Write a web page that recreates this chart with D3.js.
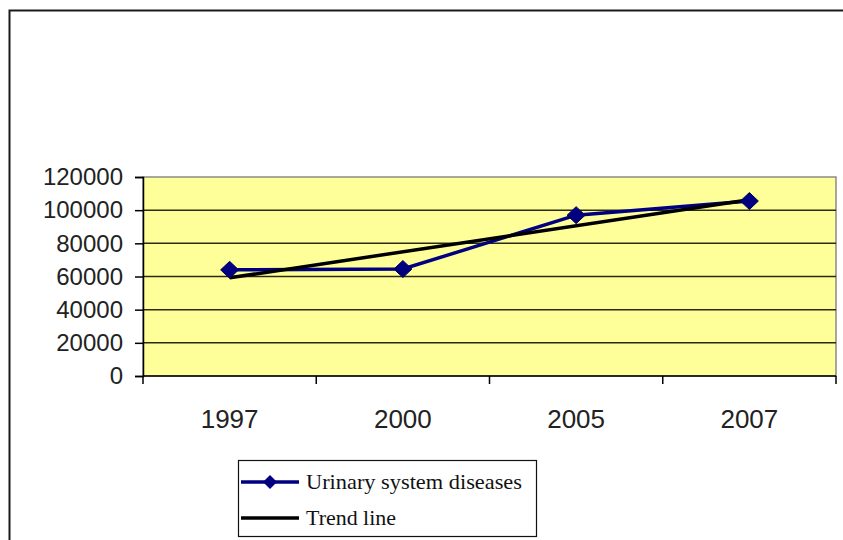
<!DOCTYPE html>
<html>
<head>
<meta charset="utf-8">
<script src="https://cdn.jsdelivr.net/npm/d3@7"></script>
<style>
  html, body { margin: 0; padding: 0; background: #fff; }
  svg { display: block; }
</style>
</head>
<body>
<svg id="chart" width="843" height="540"></svg>
<script>
// Categories and observed values
const years = ["1997", "2000", "2005", "2007"];
const urinary = [64000, 64500, 97000, 105500];
const yTicks = [0, 20000, 40000, 60000, 80000, 100000, 120000];
const legendLabels = ["Urinary system diseases", "Trend line"];

const svg = d3.select("#chart");
const W = 843, H = 540;
const plot = { left: 143, right: 836, top: 177, bottom: 376 };

// Outer chart frame (runs off the right and bottom edges)
svg.append("rect")
  .attr("x", 9.5).attr("y", 10.5)
  .attr("width", W + 20).attr("height", H + 20)
  .attr("fill", "#fff").attr("stroke", "#1a1a1a").attr("stroke-width", 2);

const x = d3.scaleBand().domain(years).range([plot.left, plot.right]).paddingInner(0).paddingOuter(0);
const y = d3.scaleLinear().domain([0, 120000]).range([plot.bottom, plot.top]);
const cx = d => x(d) + x.bandwidth() / 2;

// Plot area background
svg.append("rect")
  .attr("x", plot.left).attr("y", plot.top)
  .attr("width", plot.right - plot.left).attr("height", plot.bottom - plot.top)
  .attr("fill", "#FFFF99").attr("stroke", "#8a8a8a").attr("stroke-width", 1.5);

// Horizontal gridlines
svg.append("g").selectAll("line")
  .data(yTicks.filter(t => t > 0 && t < 120000))
  .join("line")
  .attr("x1", plot.left).attr("x2", plot.right)
  .attr("y1", d => y(d)).attr("y2", d => y(d))
  .attr("stroke", "#2a2a10").attr("stroke-width", 1.5);

// Y axis
const yAxis = svg.append("g")
  .attr("transform", `translate(${plot.left},0)`)
  .call(d3.axisLeft(y).tickValues(yTicks).tickSize(8).tickPadding(12).tickFormat(d3.format("d")));
yAxis.select(".domain").attr("stroke", "#000").attr("stroke-width", 1.5);
yAxis.selectAll(".tick line").attr("stroke", "#000").attr("stroke-width", 1.5);
yAxis.selectAll(".tick text")
  .attr("font-family", "Liberation Sans, Arial, sans-serif")
  .attr("font-size", 24).attr("fill", "#222");

// X axis: ticks at category boundaries, labels centred in each band
const xAxisG = svg.append("g").attr("transform", `translate(0,${plot.bottom})`);
xAxisG.append("line")
  .attr("x1", plot.left).attr("x2", plot.right)
  .attr("y1", 0).attr("y2", 0)
  .attr("stroke", "#000").attr("stroke-width", 1.5);
const bounds = years.map(d => x(d)).concat([x(years[years.length - 1]) + x.bandwidth()]);
xAxisG.selectAll("line.tk").data(bounds).join("line")
  .attr("class", "tk")
  .attr("x1", d => d).attr("x2", d => d)
  .attr("y1", 0).attr("y2", 8)
  .attr("stroke", "#000").attr("stroke-width", 1.5);
xAxisG.selectAll("text").data(years).join("text")
  .attr("x", d => cx(d)).attr("y", 52)
  .attr("text-anchor", "middle")
  .attr("font-family", "Liberation Sans, Arial, sans-serif")
  .attr("font-size", 26).attr("fill", "#222")
  .text(d => d);

// Linear trend (least squares over category index)
const n = urinary.length;
const xs = d3.range(1, n + 1);
const mx = d3.mean(xs), my = d3.mean(urinary);
const slope = d3.sum(xs, (v, i) => (v - mx) * (urinary[i] - my)) / d3.sum(xs, v => (v - mx) ** 2);
const intercept = my - slope * mx;
const trend = xs.map(v => intercept + slope * v);

const line = d3.line().x((d, i) => cx(years[i])).y(d => y(d));

svg.append("path").datum(urinary)
  .attr("d", line).attr("fill", "none")
  .attr("stroke", "#000080").attr("stroke-width", 3.5);

svg.append("path").datum([trend[0], trend[n - 1]])
  .attr("d", d3.line().x((d, i) => cx(years[i === 0 ? 0 : n - 1])).y(d => y(d)))
  .attr("fill", "none").attr("stroke", "#000").attr("stroke-width", 3.5);

// Diamond markers
const diamond = (px, py, hw, hh) => `M${px},${py - hh}L${px + hw},${py}L${px},${py + hh}L${px - hw},${py}Z`;
svg.append("g").selectAll("path").data(urinary).join("path")
  .attr("d", (d, i) => diamond(cx(years[i]), y(d), 9, 8.5))
  .attr("fill", "#000080").attr("stroke", "#000060").attr("stroke-width", 1);

// Legend
const lg = svg.append("g");
lg.append("rect")
  .attr("x", 238.5).attr("y", 460.5).attr("width", 298).attr("height", 76)
  .attr("fill", "#fff").attr("stroke", "#111").attr("stroke-width", 1.2);
const rows = [482, 518];
lg.append("line").attr("x1", 241).attr("x2", 299).attr("y1", rows[0]).attr("y2", rows[0])
  .attr("stroke", "#000080").attr("stroke-width", 3.5);
lg.append("path").attr("d", diamond(270, rows[0], 7, 7)).attr("fill", "#000080");
lg.append("line").attr("x1", 241).attr("x2", 299).attr("y1", rows[1]).attr("y2", rows[1])
  .attr("stroke", "#000").attr("stroke-width", 3.5);
const legendWidths = [216, 90];
lg.selectAll("text").data(legendLabels).join("text")
  .attr("x", 306).attr("y", (d, i) => rows[i] + 7)
  .attr("font-family", "Liberation Serif, Times New Roman, serif")
  .attr("font-size", 21).attr("fill", "#111")
  .attr("textLength", (d, i) => legendWidths[i])
  .attr("lengthAdjust", "spacingAndGlyphs")
  .text(d => d);
</script>
</body>
</html>
